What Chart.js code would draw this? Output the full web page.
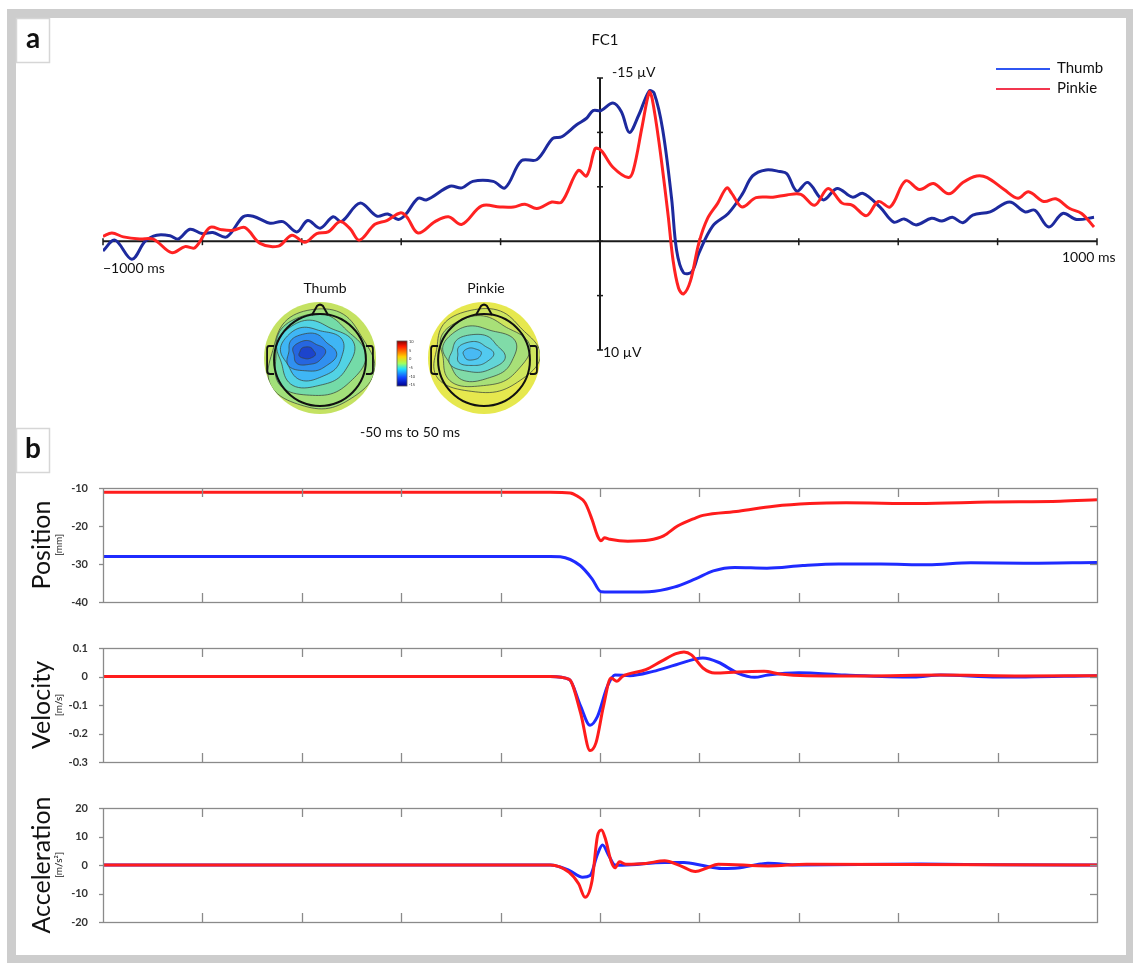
<!DOCTYPE html>
<html>
<head>
<meta charset="utf-8">
<script src="https://cdn.jsdelivr.net/npm/chart.js@4.4.1/dist/chart.umd.min.js"></script>
<style>
  html, body { margin: 0; padding: 0; background: #fff; }
  #wrap { position: relative; width: 1135px; height: 963px; overflow: hidden; }
  #wrap canvas { position: absolute; left: 0; }
</style>
</head>
<body>
<div id="wrap">
  <canvas id="erp" width="1135" height="963" style="top:0px"></canvas>
  <canvas id="pos" width="1135" height="150" style="top:470px"></canvas>
  <canvas id="vel" width="1135" height="150" style="top:630px"></canvas>
  <canvas id="acc" width="1135" height="150" style="top:790px"></canvas>
</div>
<script>
// ---- Panel a: FC1 event-related potential (µV, negative up) ----
const thumbErpMs = [-1000,-976,-942,-915,-892,-865,-849,-825,-801,-779,-751,-718,-698,-664,-638,-610,-588,-563,-537,-520,-483,-449,-427,-406,-392,-366,-349,-302,-278,-256,-215,-191,-158,-127,-95,-77,-47,-27,-14,2,26,43,59,78,99,109,126,144,154,168,185,199,227,258,286,307,334,362,376,396,418,449,477,508,529,563,591,612,636,667,688,709,730,750,785,824,855,875,903,931,959,994];
const thumbErpUv = [0.9,-0.1,1.65,0,-0.55,-0.5,-0.2,-1.1,-0.7,-0.8,-0.4,-2.25,-2.3,-1.65,-1.8,-0.85,-1.9,-1.2,-2.25,-1.8,-3.5,-2.3,-2.5,-2.0,-2.4,-3.95,-3.8,-5.05,-4.9,-5.5,-5.5,-4.9,-7.4,-7.5,-9.45,-9.6,-10.7,-11.3,-12.0,-12.0,-12.7,-11.9,-10.0,-11.6,-13.8,-13.6,-10.3,-3.95,0.8,2.9,2.8,1.1,-1.4,-2.55,-4.3,-6.0,-6.55,-6.4,-6.2,-4.6,-5.4,-3.8,-4.85,-4.05,-4.4,-3.15,-1.75,-2.05,-1.5,-2.1,-1.85,-2.2,-1.7,-2.4,-2.7,-3.6,-2.7,-2.85,-1.3,-2.55,-2.0,-2.2];
const pinkieErpMs = [-1000,-982,-959,-926,-899,-862,-835,-815,-785,-761,-738,-714,-684,-647,-620,-594,-570,-547,-523,-503,-484,-453,-429,-402,-389,-366,-332,-305,-278,-238,-201,-174,-151,-127,-97,-77,-44,-27,-10,-3,5,26,57,67,85,99,105,119,137,147,158,168,182,199,216,237,255,265,286,314,348,376,404,432,459,487,508,536,560,584,615,643,671,702,730,758,779,813,841,862,893,917,945,969,994];
const pinkieErpUv = [-0.45,-0.75,-0.4,-0.2,-0.2,1.05,0.5,0.6,-1.25,-1.05,-1.0,-1.25,0.2,0.45,-0.55,0.1,-0.7,-0.85,-1.8,-1.15,-0.1,-1.55,-1.9,-2.6,-2.25,-0.75,-1.8,-2.25,-1.55,-3.25,-3.15,-3.15,-3.4,-3.0,-3.6,-3.6,-6.5,-6.0,-8.5,-8.5,-8.2,-6.8,-5.85,-6.5,-10.6,-13.7,-13.1,-9.0,-2.4,1.75,4.3,4.85,3.65,0.15,-2.05,-3.5,-4.9,-4.4,-3.15,-4.0,-4.05,-4.25,-4.3,-3.3,-4.85,-3.5,-3.3,-2.35,-3.65,-3.15,-5.55,-4.75,-5.3,-4.35,-5.4,-6.0,-5.85,-4.75,-3.95,-4.55,-3.65,-3.9,-3.0,-2.55,-1.3];
const erpTimeTicks = [-1000,-800,-600,-400,-200,0,200,400,600,800,1000];
const erpVoltTicks = [-15,-10,-5,0,5,10];

// ---- Panel b: finger kinematics ----
const thumbPosMs = [-1000,-500,-100,-80,-40,-16,2,20,99,149,192,228,271,336,408,480,565,660,746,853,1000];
const thumbPosMm = [-28.0,-28.0,-28.0,-28.1,-30.4,-33.9,-37.3,-37.4,-37.3,-36.1,-33.9,-31.8,-30.9,-31.1,-30.4,-30.0,-30.0,-30.2,-29.7,-29.8,-29.6];
const pinkiePosMs = [-1000,-500,-100,-60,-45,-30,-16,-5,2,9,20,56,99,128,156,192,207,279,350,422,495,639,784,926,1000];
const pinkiePosMm = [-11.1,-11.1,-11.1,-11.3,-12.2,-13.9,-18.3,-22.6,-23.9,-23.1,-23.5,-24.0,-23.7,-22.6,-20.0,-17.9,-17.2,-16.1,-14.8,-14.1,-13.9,-14.1,-13.7,-13.5,-13.1];

const thumbVelMs = [-1000,-100,-62,-39,-20,-5,15,30,60,107,153,207,238,277,311,338,400,493,631,685,801,1000];
const thumbVelMps = [0,0,-0.01,-0.104,-0.171,-0.14,-0.034,0.005,0.003,0.018,0.041,0.065,0.05,0.012,-0.003,0.005,0.013,0.005,-0.002,0.005,-0.002,0.003];
const pinkieVelMs = [-1000,-100,-62,-39,-20,-8,7,22,34,45,92,123,153,169,184,207,231,277,330,362,416,531,685,850,1000];
const pinkieVelMps = [0,0,-0.01,-0.128,-0.26,-0.232,-0.104,-0.005,-0.017,0,0.024,0.053,0.08,0.086,0.076,0.03,0.012,0.016,0.018,0.009,0.003,0.002,0.005,0.002,0.003];

const thumbAccMs = [-1000,-100,-62,-35,-20,-5,5,18,30,45,130,169,207,245,277,323,338,400,646,800,1000];
const thumbAccMps2 = [0,0,-1.9,-4.3,-3.7,3.8,7.0,3.2,0,-0.1,0.9,0.9,-0.2,-1.2,-1.05,0.35,0.6,0,0.35,0.1,0];
const pinkieAccMs = [-1000,-100,-62,-43,-30,-16,-5,3,11,22,30,39,52,92,130,161,192,215,238,338,416,1000];
const pinkieAccMps2 = [0,0,-2.6,-6.6,-11.3,-5.5,10.2,12.3,9.1,1.5,-1.0,1.15,0.3,0.55,1.5,-0.2,-2.3,-1.05,0.3,-0.35,0.3,0];

const posTicks = [-10,-20,-30,-40];
const velTicks = [0.1,0,-0.1,-0.2,-0.3];
const accTicks = [20,10,0,-10,-20];
const kinTimeTicks = [-1000,-800,-600,-400,-200,0,200,400,600,800,1000];

const FONT = 'Lato, "Open Sans", "DejaVu Sans", sans-serif';
const toXY = (ts, vs) => ts.map((t, i) => ({ x: t, y: vs[i] }));

// ---------- helpers for the scalp maps ----------
function blobPath(ctx, cx, cy, rx, ry, wob, ph) {
  ctx.beginPath();
  for (let i = 0; i <= 90; i++) {
    const a = i / 90 * Math.PI * 2;
    const k = 1 + wob * Math.sin(3 * a + ph) + wob * 0.6 * Math.sin(5 * a + ph * 1.7);
    const x = cx + rx * k * Math.cos(a), y = cy + ry * k * Math.sin(a);
    if (i === 0) ctx.moveTo(x, y); else ctx.lineTo(x, y);
  }
  ctx.closePath();
}

function drawScalp(ctx, cx, cy, r, base, layers) {
  ctx.save();
  ctx.beginPath(); ctx.arc(cx, cy, r, 0, Math.PI * 2); ctx.closePath();
  ctx.fillStyle = base; ctx.fill();
  ctx.clip();
  layers.forEach(L => {
    blobPath(ctx, cx + L[0], cy + L[1], L[2], L[3], L[5], L[6]);
    ctx.fillStyle = L[4]; ctx.fill();
    ctx.strokeStyle = 'rgba(60,70,60,0.75)'; ctx.lineWidth = 1; ctx.stroke();
  });
  ctx.restore();
  // head outline, nose and ears
  const hr = r * 0.82;
  ctx.save();
  ctx.strokeStyle = '#111'; ctx.lineWidth = 2;
  ctx.beginPath(); ctx.arc(cx, cy + 2, hr, 0, Math.PI * 2); ctx.stroke();
  ctx.beginPath();
  ctx.moveTo(cx - 8, cy + 2 - hr + 1);
  ctx.lineTo(cx - 3, cy + 2 - hr - 8);
  ctx.quadraticCurveTo(cx, cy + 2 - hr - 11, cx + 3, cy + 2 - hr - 8);
  ctx.lineTo(cx + 8, cy + 2 - hr + 1);
  ctx.stroke();
  ctx.lineWidth = 1.8;
  [-1, 1].forEach(s => {
    const ex = cx + s * hr;
    ctx.beginPath();
    ctx.moveTo(ex, cy - 12);
    ctx.lineTo(ex + s * 5, cy - 12);
    ctx.quadraticCurveTo(ex + s * 7, cy - 12, ex + s * 7, cy - 9);
    ctx.lineTo(ex + s * 7, cy + 13);
    ctx.quadraticCurveTo(ex + s * 7, cy + 16, ex + s * 4, cy + 16);
    ctx.lineTo(ex, cy + 16);
    ctx.stroke();
  });
  ctx.restore();
}

// ---------- panel a: page frame, axes, legend, scalp maps ----------
const panelA = {
  id: 'panelA',
  beforeDraw(chart) {
    const ctx = chart.ctx;
    ctx.save();
    ctx.fillStyle = '#ffffff'; ctx.fillRect(0, 0, 1135, 963);
    ctx.fillStyle = '#cdcdcd'; ctx.fillRect(7, 9, 1126, 954);
    ctx.fillStyle = '#ffffff'; ctx.fillRect(16, 18, 1110, 937);
    // panel tabs
    [['a', 18, 62], ['b', 428, 472]].forEach(([t, y1, y2]) => {
      ctx.fillStyle = '#fff'; ctx.fillRect(16, y1, 33, y2 - y1);
      ctx.strokeStyle = '#d6d6d6'; ctx.lineWidth = 1.5;
      ctx.strokeRect(16.5, y1 + 0.5, 33, y2 - y1);
      ctx.fillStyle = '#111'; ctx.font = 'bold 28px ' + FONT;
      ctx.textAlign = 'center'; ctx.textBaseline = 'middle';
      ctx.fillText(t, 33, (y1 + y2) / 2 - 1);
    });
    ctx.restore();
  },
  beforeDatasetsDraw(chart) {
    const ctx = chart.ctx, xs = chart.scales.x, ys = chart.scales.y;
    const x0 = xs.getPixelForValue(0), y0 = ys.getPixelForValue(0);
    const yTop = ys.getPixelForValue(-15), yBot = ys.getPixelForValue(10);
    ctx.save();
    ctx.strokeStyle = '#1a1a1a'; ctx.lineWidth = 2;
    ctx.beginPath(); ctx.moveTo(xs.left, y0); ctx.lineTo(xs.right, y0); ctx.stroke();
    ctx.beginPath(); ctx.moveTo(x0, yTop); ctx.lineTo(x0, yBot); ctx.stroke();
    ctx.lineWidth = 1.5;
    erpTimeTicks.forEach(t => {
      const px = xs.getPixelForValue(t);
      ctx.beginPath(); ctx.moveTo(px, y0 - 3); ctx.lineTo(px, y0 + 4); ctx.stroke();
    });
    erpVoltTicks.forEach(v => {
      const py = ys.getPixelForValue(v);
      ctx.beginPath(); ctx.moveTo(x0 - 3, py); ctx.lineTo(x0 + 3, py); ctx.stroke();
    });
    ctx.fillStyle = '#111'; ctx.textBaseline = 'middle'; ctx.textAlign = 'left';
    ctx.font = '14px ' + FONT;
    ctx.fillText('-15 \u00b5V', x0 + 12, yTop - 6);
    ctx.fillText('10 \u00b5V', x0 + 3, yBot + 2);
    ctx.fillText('\u22121000 ms', xs.left, y0 + 27);
    ctx.fillText('1000 ms', xs.right - 35, y0 + 16);
    ctx.font = '15px ' + FONT; ctx.textAlign = 'center';
    ctx.fillText('FC1', 605, 40);
    ctx.restore();
  },
  afterDraw(chart) {
    const ctx = chart.ctx;
    ctx.save();
    // legend
    const items = [['Thumb', '#2f56f2', 69], ['Pinkie', '#f2364f', 89]];
    items.forEach(([label, col, y]) => {
      ctx.strokeStyle = col; ctx.lineWidth = 2;
      ctx.beginPath(); ctx.moveTo(996, y); ctx.lineTo(1050, y); ctx.stroke();
      ctx.fillStyle = '#111'; ctx.font = '15px ' + FONT;
      ctx.textAlign = 'left'; ctx.textBaseline = 'middle';
      ctx.fillText(label, 1057, y - 1);
    });
    // scalp maps, -50 ms to 50 ms
    ctx.font = '14px ' + FONT; ctx.textAlign = 'center'; ctx.textBaseline = 'middle';
    ctx.fillText('Thumb', 325, 288);
    ctx.fillText('Pinkie', 486, 288);
    ctx.fillText('-50 ms to 50 ms', 410, 432);
    drawScalp(ctx, 320, 358, 56, '#c4e262', [
      [0, 2, 52, 50, '#a2e07a', 0.05, 0.4],
      [-3, -2, 45, 41, '#74dba8', 0.06, 1.1],
      [-6, -4, 38, 33, '#52d3e4', 0.07, 2.0],
      [-8, -5, 31, 26, '#3fb6f5', 0.07, 2.6],
      [-10, -5, 24, 19, '#3090f0', 0.08, 0.9],
      [-12, -5, 16, 12, '#2666e0', 0.08, 1.7],
      [-13, -5, 8, 6, '#1c44cc', 0.06, 0.3]
    ]);
    drawScalp(ctx, 484, 358, 56, '#e6e84e', [
      [0, -6, 52, 42, '#cfe65e', 0.06, 0.8],
      [-2, -6, 44, 35, '#a8e078', 0.07, 1.6],
      [-5, -5, 36, 27, '#80dba8', 0.07, 2.4],
      [-8, -4, 27, 19, '#62d5d8', 0.07, 0.5],
      [-10, -4, 18, 12, '#52caf0', 0.07, 1.2],
      [-12, -4, 9, 6, '#48baf4', 0.05, 2.1]
    ]);
    // colour bar
    const g = ctx.createLinearGradient(0, 341, 0, 386);
    g.addColorStop(0, '#8a0000'); g.addColorStop(0.12, '#ff1a00');
    g.addColorStop(0.35, '#ffd000'); g.addColorStop(0.5, '#a0ff60');
    g.addColorStop(0.62, '#20e0ff'); g.addColorStop(0.82, '#1040ff');
    g.addColorStop(1, '#00008c');
    ctx.fillStyle = g; ctx.fillRect(397, 341, 10, 45);
    ctx.strokeStyle = '#555'; ctx.lineWidth = 0.8; ctx.strokeRect(397, 341, 10, 45);
    ctx.fillStyle = '#333'; ctx.font = '4px ' + FONT; ctx.textAlign = 'left';
    ['10', '5', '0', '-5', '-10', '-15'].forEach((s, i) => ctx.fillText(s, 409, 342 + i * 8.6));
    ctx.restore();
  }
};

// Pinkie listed first so it is painted on top of Thumb
new Chart(document.getElementById('erp'), {
  type: 'line',
  data: {
    datasets: [
      { label: 'Pinkie', data: toXY(pinkieErpMs, pinkieErpUv), borderColor: '#ff2222', borderWidth: 3, tension: 0.35, pointRadius: 0 },
      { label: 'Thumb', data: toXY(thumbErpMs, thumbErpUv), borderColor: '#1d2a9e', borderWidth: 3, tension: 0.35, pointRadius: 0 }
    ]
  },
  options: {
    responsive: false, animation: false, events: [],
    layout: { padding: { left: 103, right: 38, top: 78, bottom: 613 } },
    scales: {
      x: { type: 'linear', min: -1000, max: 1000, display: false },
      y: { type: 'linear', min: -15, max: 10, reverse: true, display: false }
    },
    plugins: { legend: { display: false }, tooltip: { enabled: false } }
  },
  plugins: [panelA]
});

// ---------- panel b: three kinematic traces ----------
function kinChart(id, title, unit, series, yMin, yMax, yTicks) {
  const framePlugin = {
    id: 'frame_' + id,
    afterDraw(chart) {
      const ctx = chart.ctx, a = chart.chartArea, xs = chart.scales.x, ys = chart.scales.y;
      ctx.save();
      ctx.strokeStyle = '#8a8a8a'; ctx.lineWidth = 1.3;
      ctx.strokeRect(a.left + 0.5, a.top + 0.5, a.right - a.left, a.bottom - a.top);
      kinTimeTicks.slice(1, -1).forEach(t => {
        const px = Math.round(xs.getPixelForValue(t)) + 0.5;
        ctx.beginPath(); ctx.moveTo(px, a.top); ctx.lineTo(px, a.top + 9); ctx.stroke();
        ctx.beginPath(); ctx.moveTo(px, a.bottom); ctx.lineTo(px, a.bottom - 9); ctx.stroke();
      });
      yTicks.forEach(v => {
        const py = Math.round(ys.getPixelForValue(v)) + 0.5;
        ctx.beginPath(); ctx.moveTo(a.left - 4, py); ctx.lineTo(a.left, py); ctx.stroke();
      });
      yTicks.slice(1, -1).forEach(v => {
        const py = Math.round(ys.getPixelForValue(v)) + 0.5;
        ctx.beginPath(); ctx.moveTo(a.right - 7, py); ctx.lineTo(a.right, py); ctx.stroke();
      });
      const my = (a.top + a.bottom) / 2;
      ctx.fillStyle = '#111'; ctx.textAlign = 'center'; ctx.textBaseline = 'middle';
      ctx.translate(42, my); ctx.rotate(-Math.PI / 2);
      ctx.font = '25px ' + FONT; ctx.fillText(title, 0, 0);
      ctx.font = '10px ' + FONT; ctx.fillText(unit, 0, 17);
      ctx.restore();
    }
  };
  new Chart(document.getElementById(id), {
    type: 'line',
    data: {
      datasets: [
        { label: 'Pinkie', data: toXY(series[2], series[3]), borderColor: '#ff1c1c', borderWidth: 3, cubicInterpolationMode: 'monotone', pointRadius: 0 },
        { label: 'Thumb', data: toXY(series[0], series[1]), borderColor: '#1f2bff', borderWidth: 3, cubicInterpolationMode: 'monotone', pointRadius: 0 }
      ]
    },
    options: {
      responsive: false, animation: false, events: [],
      layout: { padding: { left: 0, right: 38, top: 18, bottom: 18 } },
      scales: {
        x: { type: 'linear', min: -1000, max: 1000, display: false },
        y: {
          type: 'linear', min: yMin, max: yMax,
          afterFit: s => { s.width = 103; },
          afterBuildTicks: s => { s.ticks = yTicks.map(v => ({ value: v })); },
          grid: { display: false }, border: { display: false },
          ticks: { padding: 7, color: '#333', font: { family: FONT, size: 11, weight: 'bold' }, callback: v => String(v) }
        }
      },
      plugins: { legend: { display: false }, tooltip: { enabled: false } }
    },
    plugins: [framePlugin]
  });
}

kinChart('pos', 'Position', '[mm]', [thumbPosMs, thumbPosMm, pinkiePosMs, pinkiePosMm], -40, -10, posTicks);
kinChart('vel', 'Velocity', '[m/s]', [thumbVelMs, thumbVelMps, pinkieVelMs, pinkieVelMps], -0.3, 0.1, velTicks);
kinChart('acc', 'Acceleration', '[m/s\u00b2]', [thumbAccMs, thumbAccMps2, pinkieAccMs, pinkieAccMps2], -20, 20, accTicks);
</script>
</body>
</html>
